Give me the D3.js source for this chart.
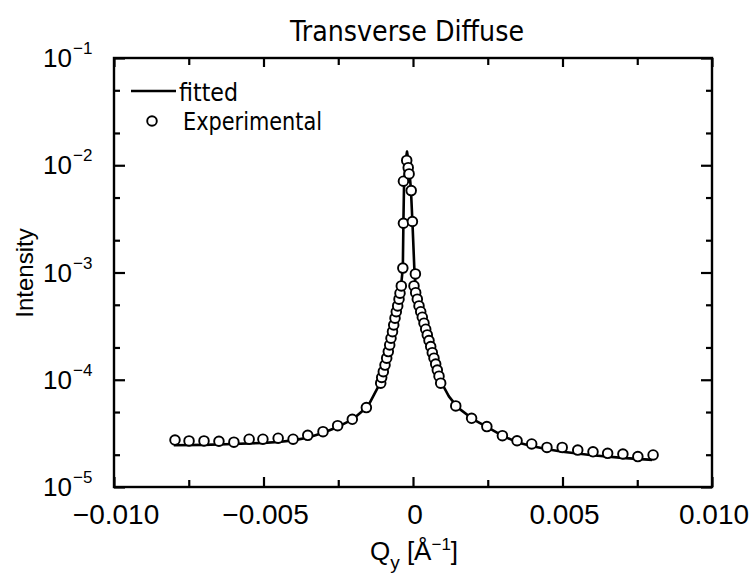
<!DOCTYPE html>
<html>
<head>
<meta charset="utf-8">
<script src="https://cdn.jsdelivr.net/npm/d3@7"></script>
<style>
  html, body { margin: 0; padding: 0; background: #fff; }
  svg { display: block; }
</style>
</head>
<body>
<div id="chart"></div>
<script>
// ---------- data ----------
const titleText = "Transverse Diffuse";
const xTickValues = [-0.010, -0.005, 0, 0.005, 0.010];
const xTickLabels = ["\u22120.010", "\u22120.005", "0", "0.005", "0.010"];
const xMinorTicks = [-0.0075, -0.0025, 0.0025, 0.0075];
const yTickValues = [1e-5, 1e-4, 1e-3, 1e-2, 1e-1];
const yTickExponents = ["\u22125", "\u22124", "\u22123", "\u22122", "\u22121"];
const yMinorTicks = [2e-5, 5e-5, 2e-4, 5e-4, 2e-3, 5e-3, 2e-2, 5e-2];

// experimental points (Qy, intensity)
const expQy = [
  -0.00796, -0.00749, -0.00699, -0.00649, -0.00599, -0.00548, -0.00502, -0.00451,
  -0.00401, -0.00352, -0.00301, -0.00252, -0.00203, -0.00156,
  -0.00108, -0.001047, -0.000993, -0.000936, -0.00088, -0.000826, -0.000779, -0.000736,
  -0.000686, -0.000645, -0.000602, -0.000559, -0.000512, -0.000468, -0.000435, -0.000391,
  -0.00034, -0.00032, -0.00032, -0.00021, -0.00016, -0.00013, -0.00006, -0.00002, 0.00008,
  0.000033, 0.00009, 0.000144, 0.000201, 0.000258, 0.000311, 0.000368, 0.000425,
  0.000478, 0.000535, 0.000592, 0.000645, 0.000702, 0.000759, 0.000813, 0.00087, 0.000926,
  0.00143, 0.00196, 0.00247, 0.00299, 0.00348, 0.00397, 0.00448, 0.00499,
  0.00551, 0.00602, 0.00651, 0.00702, 0.00752, 0.00803
];
const expI = [
  2.74e-5, 2.69e-5, 2.69e-5, 2.67e-5, 2.62e-5, 2.79e-5, 2.79e-5, 2.85e-5,
  2.79e-5, 3.03e-5, 3.28e-5, 3.73e-5, 4.28e-5, 5.5e-5,
  9.3e-5, 1.05e-4, 1.19e-4, 1.37e-4, 1.59e-4, 1.83e-4, 2.11e-4, 2.44e-4,
  2.81e-4, 3.24e-4, 3.75e-4, 4.31e-4, 4.88e-4, 5.64e-4, 6.41e-4, 7.5e-4,
  1.10e-3, 2.88e-3, 7.1e-3, 1.11e-2, 9.5e-3, 8.3e-3, 5.8e-3, 2.99e-3, 9.7e-4,
  7.5e-4, 6.49e-4, 5.64e-4, 4.88e-4, 4.31e-4, 3.83e-4, 3.37e-4, 2.96e-4,
  2.62e-4, 2.32e-4, 2.04e-4, 1.79e-4, 1.59e-4, 1.40e-4, 1.23e-4, 1.08e-4, 9.3e-5,
  5.7e-5, 4.37e-5, 3.66e-5, 3.01e-5, 2.70e-5, 2.52e-5, 2.34e-5, 2.34e-5,
  2.21e-5, 2.13e-5, 2.06e-5, 2.03e-5, 1.92e-5, 1.99e-5
];

// fitted curve (Qy, intensity)
const fitQy = [
  -0.0080, -0.0070, -0.0060, -0.0050, -0.0045, -0.0040, -0.0035, -0.0030,
  -0.0025, -0.0020, -0.0015, -0.0011, -0.0009, -0.0007, -0.0005, -0.0004,
  -0.00034, -0.00032, -0.00030, -0.00025, -0.00020, -0.00015, -0.00007, -0.00002,
  0.00005, 0.00010, 0.0003, 0.0005, 0.0007, 0.0009, 0.0012, 0.0015,
  0.0020, 0.0025, 0.0030, 0.0035, 0.0040, 0.0045, 0.0050, 0.0060, 0.0070, 0.0080
];
const fitI = [
  2.45e-5, 2.47e-5, 2.52e-5, 2.58e-5, 2.63e-5, 2.72e-5, 2.9e-5, 3.2e-5,
  3.65e-5, 4.3e-5, 5.7e-5, 9.3e-5, 1.5e-4, 2.75e-4, 5.0e-4, 7.5e-4,
  1.1e-3, 3.0e-3, 6.5e-3, 1.1e-2, 1.34e-2, 1.1e-2, 6.0e-3, 3.0e-3,
  1.0e-3, 7.0e-4, 3.9e-4, 2.5e-4, 1.6e-4, 1.0e-4, 7.0e-5, 5.5e-5,
  4.3e-5, 3.6e-5, 3.0e-5, 2.6e-5, 2.4e-5, 2.25e-5, 2.13e-5, 1.98e-5, 1.87e-5, 1.79e-5
];

const legendLabels = ["fitted", "Experimental"];

// ---------- layout ----------
const W = 754, H = 576;
const M = { left: 114, right: 712, top: 58, bottom: 487 };
const numFont = "'Liberation Sans', Arial, Helvetica, sans-serif";
const titleFont = "'DejaVu Sans', sans-serif";

const svg = d3.select("#chart").append("svg")
  .attr("width", W).attr("height", H);

const x = d3.scaleLinear().domain([-0.01, 0.01]).range([M.left, M.right]);
const y = d3.scaleLog().domain([1e-5, 1e-1]).range([M.bottom, M.top]);

// frame
svg.append("rect")
  .attr("x", M.left).attr("y", M.top)
  .attr("width", M.right - M.left).attr("height", M.bottom - M.top)
  .attr("fill", "none").attr("stroke", "#000").attr("stroke-width", 2.4);

function styleAxis(g) {
  g.select(".domain").remove();
  g.selectAll("line").attr("stroke", "#000").attr("stroke-width", 2.2);
  g.selectAll("text").remove();
}
svg.append("g").attr("transform", `translate(0,${M.bottom})`)
  .call(d3.axisBottom(x).tickValues(xTickValues).tickSizeInner(-10).tickSizeOuter(0))
  .call(styleAxis);
svg.append("g").attr("transform", `translate(0,${M.bottom})`)
  .call(d3.axisBottom(x).tickValues(xMinorTicks).tickSizeInner(-7).tickSizeOuter(0))
  .call(styleAxis);
svg.append("g").attr("transform", `translate(0,${M.top})`)
  .call(d3.axisTop(x).tickValues(xTickValues).tickSizeInner(-9).tickSizeOuter(0))
  .call(styleAxis);
svg.append("g").attr("transform", `translate(0,${M.top})`)
  .call(d3.axisTop(x).tickValues(xMinorTicks).tickSizeInner(-7).tickSizeOuter(0))
  .call(styleAxis);
svg.append("g").attr("transform", `translate(${M.left},0)`)
  .call(d3.axisLeft(y).tickValues(yTickValues).tickSizeInner(-11).tickSizeOuter(0))
  .call(styleAxis);
svg.append("g").attr("transform", `translate(${M.left},0)`)
  .call(d3.axisLeft(y).tickValues(yMinorTicks).tickSizeInner(-6).tickSizeOuter(0))
  .call(styleAxis);
svg.append("g").attr("transform", `translate(${M.right},0)`)
  .call(d3.axisRight(y).tickValues(yTickValues).tickSizeInner(-11).tickSizeOuter(0))
  .call(styleAxis);
svg.append("g").attr("transform", `translate(${M.right},0)`)
  .call(d3.axisRight(y).tickValues(yMinorTicks).tickSizeInner(-6).tickSizeOuter(0))
  .call(styleAxis);

// x tick labels
svg.append("g").selectAll("text").data(xTickValues).join("text")
  .attr("x", d => x(d) + 2).attr("y", M.bottom + 37)
  .attr("text-anchor", "middle")
  .attr("font-family", numFont).attr("font-size", 28)
  .attr("fill", "#000")
  .text((d, i) => xTickLabels[i]);

// y tick labels
const yl = svg.append("g").selectAll("g").data(yTickValues).join("g")
  .attr("transform", d => `translate(0,${y(d)})`);
yl.append("text")
  .attr("x", 72).attr("y", 9)
  .attr("text-anchor", "end")
  .attr("font-family", numFont).attr("font-size", 26)
  .attr("fill", "#000").text("10");
yl.append("text")
  .attr("x", 73).attr("y", -4)
  .attr("text-anchor", "start")
  .attr("font-family", numFont).attr("font-size", 17)
  .attr("fill", "#000")
  .text((d, i) => yTickExponents[i]);

// title
svg.append("text")
  .attr("x", 407).attr("y", 41)
  .attr("text-anchor", "middle")
  .attr("font-family", titleFont).attr("font-size", 28)
  .attr("textLength", 234).attr("lengthAdjust", "spacingAndGlyphs")
  .attr("fill", "#000").text(titleText);

// y axis label
svg.append("text")
  .attr("transform", "translate(33,273) rotate(-90)")
  .attr("text-anchor", "middle")
  .attr("font-family", numFont).attr("font-size", 24)
  .attr("fill", "#000").text("Intensity");

// x axis label
const xl = svg.append("text")
  .attr("x", 414).attr("y", 560)
  .attr("text-anchor", "middle")
  .attr("font-family", numFont).attr("font-size", 26)
  .attr("fill", "#000");
xl.append("tspan").text("Q");
xl.append("tspan").attr("dy", 9).attr("font-size", 19).text("y");
xl.append("tspan").attr("dy", -9).text(" [\u00C5");
xl.append("tspan").attr("dy", -10).attr("font-size", 17).text("\u22121");
xl.append("tspan").attr("dy", 10).text("]");

// fitted line
const pts = fitQy.map((q, i) => [q, fitI[i]]);
const line = d3.line().x(d => x(d[0])).y(d => y(d[1]));
svg.append("path").datum(pts)
  .attr("d", line)
  .attr("fill", "none").attr("stroke", "#000").attr("stroke-width", 2.6)
  .attr("stroke-linejoin", "round");

// experimental circles
const epts = expQy.map((q, i) => [q, expI[i]]);
svg.append("g").selectAll("circle").data(epts).join("circle")
  .attr("cx", d => x(d[0])).attr("cy", d => y(d[1])).attr("r", 4.8)
  .attr("fill", "#fff").attr("stroke", "#000").attr("stroke-width", 1.9);

// legend
svg.append("line")
  .attr("x1", 131).attr("x2", 176).attr("y1", 91).attr("y2", 91)
  .attr("stroke", "#000").attr("stroke-width", 2.4);
svg.append("text")
  .attr("x", 179).attr("y", 101)
  .attr("font-family", titleFont).attr("font-size", 25)
  .attr("textLength", 59).attr("lengthAdjust", "spacingAndGlyphs")
  .attr("fill", "#000").text(legendLabels[0]);
svg.append("circle")
  .attr("cx", 152).attr("cy", 121).attr("r", 4.8)
  .attr("fill", "#fff").attr("stroke", "#000").attr("stroke-width", 1.9);
svg.append("text")
  .attr("x", 183).attr("y", 130)
  .attr("font-family", titleFont).attr("font-size", 25)
  .attr("textLength", 139).attr("lengthAdjust", "spacingAndGlyphs")
  .attr("fill", "#000").text(legendLabels[1]);
</script>
</body>
</html>
